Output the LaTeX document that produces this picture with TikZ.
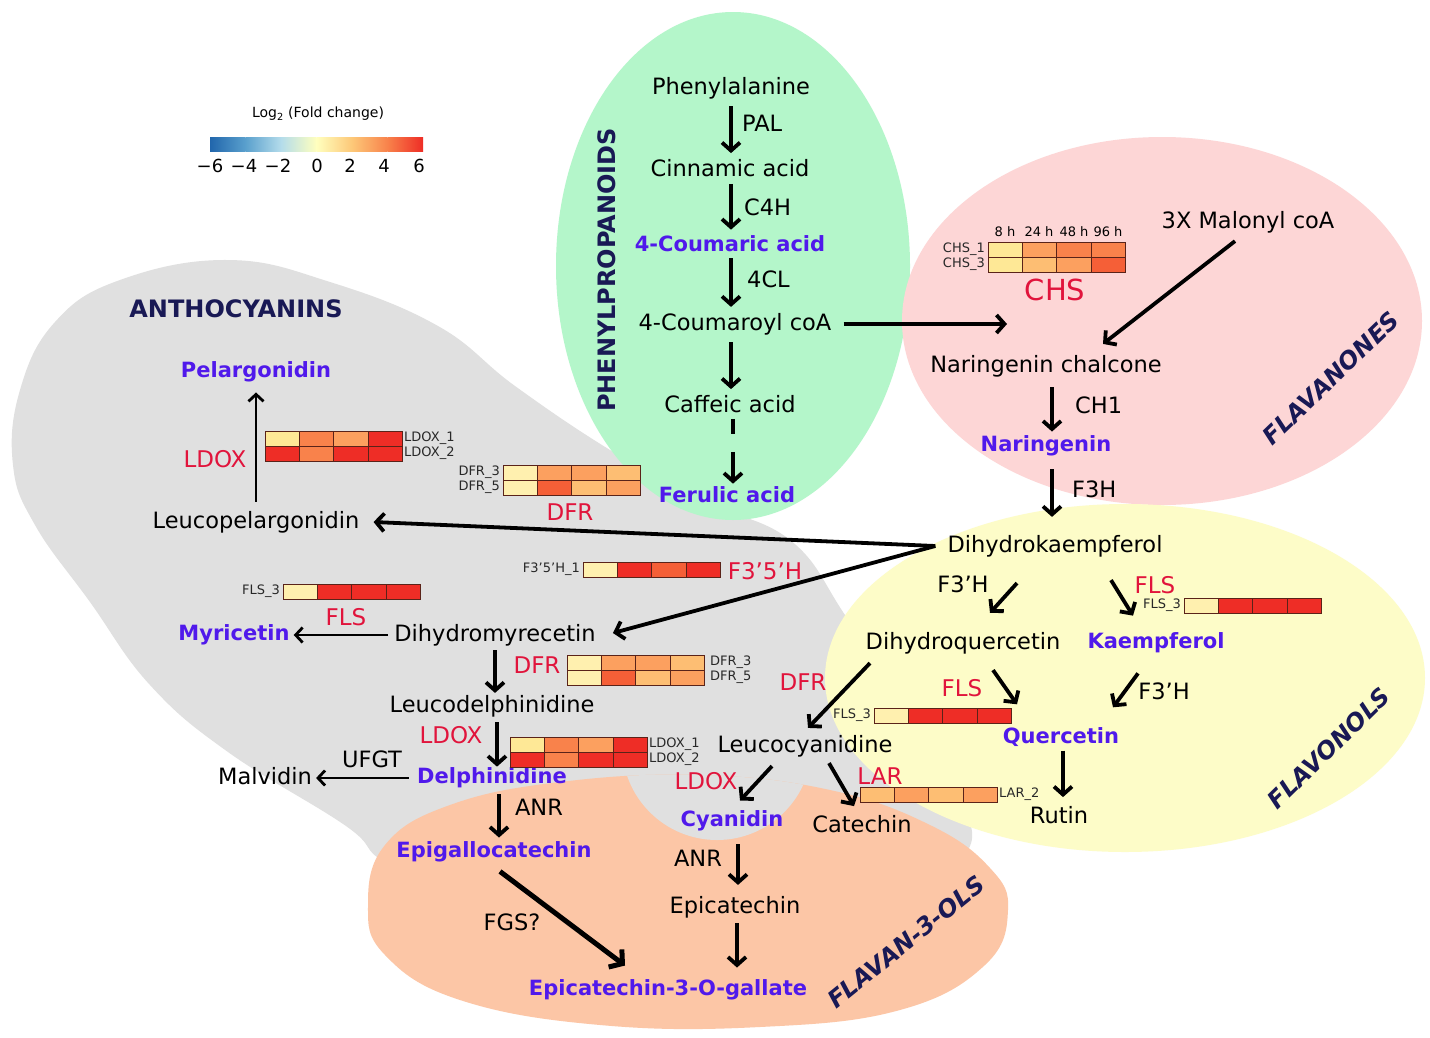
\documentclass[tikz,border=0pt]{standalone}
\usepackage{fontspec}
\setmainfont{DejaVu Sans}
\usetikzlibrary{arrows.meta,calc}
\definecolor{bggreen}{RGB}{180,246,202}
\definecolor{bgpink}{RGB}{253,214,214}
\definecolor{bgyellow}{RGB}{253,252,200}
\definecolor{bggray}{RGB}{224,224,224}
\definecolor{bgorange}{RGB}{252,198,166}
\definecolor{cmpblue}{RGB}{80,25,235}
\definecolor{enzred}{RGB}{225,20,60}
\definecolor{navy}{RGB}{25,25,85}
\definecolor{rowgray}{RGB}{40,40,40}
\definecolor{cellline}{RGB}{90,35,25}
\definecolor{hA}{RGB}{254,232,150}
\definecolor{hB}{RGB}{255,240,175}
\definecolor{hC}{RGB}{253,190,115}
\definecolor{hD}{RGB}{252,160,95}
\definecolor{hE}{RGB}{249,130,75}
\definecolor{hF}{RGB}{245,95,55}
\definecolor{hG}{RGB}{238,45,38}
\definecolor{lgA}{RGB}{33,102,172}
\definecolor{lgB}{RGB}{90,160,205}
\definecolor{lgC}{RGB}{180,220,235}
\definecolor{lgD}{RGB}{255,255,190}
\definecolor{lgE}{RGB}{253,200,120}
\definecolor{lgF}{RGB}{248,130,75}
\definecolor{lgG}{RGB}{238,45,38}
\newcommand{\heatcells}[3]{%
  \foreach \hc [count=\hi from 0] in {#3}{%
    \draw[cell, fill=\hc] ({#1+\hi*34.3},#2) rectangle ({#1+(\hi+1)*34.3},{#2+15});
  }}
\begin{document}
\begin{tikzpicture}[x=1pt,y=-1pt,
  cmp/.style={font=\fontsize{22.5}{26}\selectfont, inner sep=2pt, text=black},
  bcmp/.style={font=\bfseries\fontsize{21}{25}\selectfont, inner sep=2pt, text=cmpblue},
  enz/.style={font=\fontsize{23}{27}\selectfont, inner sep=2pt, text=enzred},
  lab/.style={font=\fontsize{22.5}{26}\selectfont, inner sep=2pt, text=black},
  rowlab/.style={font=\fontsize{13}{15}\selectfont, inner sep=1pt, text=rowgray},
  grp/.style={font=\bfseries\fontsize{24}{28}\selectfont, text=navy},
  grpi/.style={font=\bfseries\itshape\fontsize{24}{28}\selectfont, text=navy},
  arr/.style={line width=3.8pt, -{Straight Barb[length=8pt,width=18pt]}},
  thinarr/.style={line width=2.8pt, -{Straight Barb[length=7pt,width=15pt]}},
  cell/.style={draw=cellline, line width=0.8pt}]
\useasboundingbox (0,0) rectangle (1430,1037);
\fill[white] (0,0) rectangle (1430,1037);
% ---------- backgrounds ----------
\fill[bggray] plot[smooth cycle, tension=0.7] coordinates {
 (228,260) (330,282) (438,326) (515,386) (610,450) (700,500) (790,540) (845,615)
 (905,710) (955,790) (968,850) (900,885) (700,900) (470,895) (385,862) (346,826)
 (228,752) (150,685) (90,602) (35,525) (13,465) (20,390) (55,322) (120,280)};
\fill[bggreen] (733,266) ellipse [x radius=177, y radius=254];
\fill[bgpink] (1162,321) ellipse [x radius=260, y radius=184];
\fill[bgyellow] (1125,678) ellipse [x radius=300, y radius=174];
\fill[bgorange] plot[smooth cycle, tension=0.7] coordinates {
 (368,905) (385,845) (450,805) (560,782) (700,775) (830,790) (930,825) (990,868)
 (1008,910) (985,965) (900,1010) (760,1027) (600,1025) (460,1000) (385,955)};
\begin{scope}
 \clip plot[smooth cycle, tension=0.7] coordinates {
 (368,905) (385,845) (450,805) (560,782) (700,775) (830,790) (930,825) (990,868)
 (1008,910) (985,965) (900,1010) (760,1027) (600,1025) (460,1000) (385,955)};
 \fill[bggray] (717,745) circle [radius=95];
\end{scope}
% ---------- legend ----------
\node[font=\fontsize{14}{16}\selectfont, inner sep=1pt] (lgtitle) at (318,114) {Log\textsubscript{2} (Fold change)};
\shade[left color=lgA, right color=lgB] (210,137) rectangle (245.6,151);
\shade[left color=lgB, right color=lgC] (245.5,137) rectangle (281.1,151);
\shade[left color=lgC, right color=lgD] (281,137) rectangle (316.6,151);
\shade[left color=lgD, right color=lgE] (316.5,137) rectangle (352.1,151);
\shade[left color=lgE, right color=lgF] (352,137) rectangle (387.6,151);
\shade[left color=lgF, right color=lgG] (387.5,137) rectangle (423,151);
\foreach \v/\x [count=\k] in {−6/210,−4/244,−2/278,0/317,2/350,4/384,6/419}
  \node[font=\fontsize{18}{20}\selectfont, inner sep=1pt] (tick\k) at (\x,166) {\v};
% ---------- group titles ----------
\node[grp, rotate=90] (tphen) at (607,270) {PHENYLPROPANOIDS};
\node[grp] (tanth) at (236,309) {ANTHOCYANINS};
\node[grpi, rotate=44] (tflavan) at (1331,378) {FLAVANONES};
\node[grpi, rotate=44.5] (tflavon) at (1329,748) {FLAVONOLS};
\node[grpi, rotate=39] (tflav3) at (906,942) {FLAVAN-3-OLS};
% ---------- compounds ----------
\node[cmp] (phe) at (731,88) {Phenylalanine};
\node[cmp] (cin) at (730,168) {Cinnamic acid};
\node[bcmp] (cou) at (730,244) {4-Coumaric acid};
\node[cmp] (coa) at (735,324) {4-Coumaroyl coA};
\node[cmp] (caf) at (730,404) {Caffeic acid};
\node[bcmp] (fer) at (727,495) {Ferulic acid};
\node[cmp] (mal) at (1248,222) {3X Malonyl coA};
\node[cmp] (nch) at (1046,366) {Naringenin chalcone};
\node[bcmp] (nar) at (1046,446) {Naringenin};
\node[cmp] (dhk) at (1055,546) {Dihydrokaempferol};
\node[cmp] (dhq) at (963,643) {Dihydroquercetin};
\node[bcmp] (kae) at (1156,643) {Kaempferol};
\node[bcmp] (que) at (1061,737) {Quercetin};
\node[cmp] (rut) at (1059,815) {Rutin};
\node[cmp] (lcy) at (805,746) {Leucocyanidine};
\node[bcmp] (cya) at (732,821) {Cyanidin};
\node[cmp] (cat) at (862,824) {Catechin};
\node[cmp] (epi) at (735,907) {Epicatechin};
\node[bcmp] (ecg) at (668,990) {Epicatechin-3-O-gallate};
\node[bcmp] (egc) at (494,852) {Epigallocatechin};
\node[bcmp] (del) at (492,778) {Delphinidine};
\node[cmp] (malv) at (265,776) {Malvidin};
\node[cmp] (ldp) at (492,706) {Leucodelphinidine};
\node[cmp] (dhm) at (495,635) {Dihydromyrecetin};
\node[bcmp] (myr) at (234,635) {Myricetin};
\node[cmp] (lpg) at (256,522) {Leucopelargonidin};
\node[bcmp] (pel) at (256,372) {Pelargonidin};
% ---------- enzymes (black) ----------
\node[lab, anchor=west] (pal) at (740,123) {PAL};
\node[lab, anchor=west] (c4h) at (742,207) {C4H};
\node[lab, anchor=west] (fcl) at (745,279) {4CL};
\node[lab, anchor=west] (ch1) at (1073,405) {CH1};
\node[lab, anchor=west] (f3h) at (1070,489) {F3H};
\node[lab] (f3ph1) at (963,584) {F3’H};
\node[lab] (f3ph2) at (1164,691) {F3’H};
\node[lab] (ufgt) at (372,759) {UFGT};
\node[lab] (anr1) at (539,807) {ANR};
\node[lab] (anr2) at (698,858) {ANR};
\node[lab] (fgs) at (512,922) {FGS?};
% ---------- enzymes (red) ----------
\node[enz, font=\fontsize{29}{32}\selectfont] (chs) at (1055,290) {CHS};
\node[enz] (ldoxa) at (215,459) {LDOX};
\node[enz] (dfra) at (570,512) {DFR};
\node[enz] (f35h) at (765,571) {F3’5’H};
\node[enz] (flsa) at (346,617) {FLS};
\node[enz] (dfrb) at (537,665) {DFR};
\node[enz] (ldoxb) at (451,735) {LDOX};
\node[enz] (flsb) at (1155,585) {FLS};
\node[enz] (dfrc) at (803,682) {DFR};
\node[enz] (flsc) at (962,688) {FLS};
\node[enz] (ldoxc) at (706,781) {LDOX};
\node[enz] (lar) at (880,776) {LAR};
% ---------- heatmaps ----------
% CHS
\heatcells{988}{242}{hA,hD,hE,hE}
\heatcells{988}{257}{hA,hC,hD,hF}
\foreach \t/\x [count=\k] in {8 h/1005,24 h/1039,48 h/1074,96 h/1108}
  \node[rowlab, text=black] (chsh\k) at (\x,232) {\t};
\node[rowlab, anchor=east] (chs1) at (986,249.5) {CHS\_1};
\node[rowlab, anchor=east] (chs3) at (986,264.5) {CHS\_3};
% LDOX upper
\heatcells{265}{431}{hA,hE,hD,hG}
\heatcells{265}{446}{hG,hE,hG,hG}
\node[rowlab, anchor=west] (ldoxa1) at (403,438.5) {LDOX\_1};
\node[rowlab, anchor=west] (ldoxa2) at (403,453.5) {LDOX\_2};
% DFR upper
\heatcells{503}{465}{hB,hD,hD,hC}
\heatcells{503}{480}{hB,hF,hC,hD}
\node[rowlab, anchor=east] (dfra3) at (501,472.5) {DFR\_3};
\node[rowlab, anchor=east] (dfra5) at (501,487.5) {DFR\_5};
% F3'5'H
\heatcells{583}{562}{hB,hG,hF,hG}
\node[rowlab, anchor=east] (f35h1) at (581,569.5) {F3’5’H\_1};
% FLS left
\heatcells{283}{584}{hB,hG,hG,hG}
\node[rowlab, anchor=east] (flsa3) at (281,591.5) {FLS\_3};
% DFR lower
\heatcells{567}{655}{hB,hD,hD,hC}
\heatcells{567}{670}{hB,hF,hC,hD}
\node[rowlab, anchor=west] (dfrb3) at (709,662.5) {DFR\_3};
\node[rowlab, anchor=west] (dfrb5) at (709,677.5) {DFR\_5};
% LDOX lower
\heatcells{510}{737}{hA,hE,hD,hG}
\heatcells{510}{752}{hG,hE,hG,hG}
\node[rowlab, anchor=west] (ldoxb1) at (648,744.5) {LDOX\_1};
\node[rowlab, anchor=west] (ldoxb2) at (648,759.5) {LDOX\_2};
% FLS right
\heatcells{1184}{598}{hB,hG,hG,hG}
\node[rowlab, anchor=east] (flsb3) at (1182,605.5) {FLS\_3};
% FLS lower
\heatcells{874}{708}{hB,hG,hG,hG}
\node[rowlab, anchor=east] (flsc3) at (872,715.5) {FLS\_3};
% LAR
\heatcells{860}{787}{hC,hD,hC,hD}
\node[rowlab, anchor=west] (lar2) at (998,794.5) {LAR\_2};
% ---------- arrows ----------
\draw[arr] ($(phe.south)+(0,5)$) -- ($(phe.south |- cin.north)+(0,-4)$);
\draw[arr] ($(cin.south)+(1,5)$) -- ($(cin.south |- cou.north)+(1,-4)$);
\draw[arr] ($(cou.south)+(1,4)$) -- ($(cou.south |- coa.north)+(1,-4)$);
\draw[arr] ($(caf.north |- coa.south)+(1,5)$) -- ($(caf.north)+(1,-4)$);
\draw[arr, dash pattern=on 15pt off 18pt on 60pt] ($(caf.south)+(3,4)$) -- ($(caf.south |- fer.north)+(3,-1)$);
\coordinate (chsin) at (1007,324);
\draw[arr] ($(coa.east)+(10,0)$) -- (chsin);
\draw[arr] ($(mal.south)+(-13,6)$) -- ($(nch.north)+(57,-9)$);
\draw[arr] ($(nch.south)+(6,8)$) -- ($(nch.south |- nar.north)+(6,-2)$);
\draw[arr] ($(nar.south)+(6,11)$) -- ($(nar.south |- dhk.north)+(6,-16)$);
\draw[arr] ($(dhk.west)+(-10,0)$) -- ($(lpg.east)+(12,0)$);
\draw[arr] ($(dhk.west)+(-10,0)$) -- ($(dhm.east)+(15,-2)$);
\draw[thinarr] ($(lpg.north)+(0,-7)$) -- ($(pel.south)+(0,8)$);
\draw[thinarr] ($(dhm.west)+(-4,0)$) -- ($(myr.east |- dhm.west)+(2,0)$);
\draw[arr] ($(dhm.south)+(0,2)$) -- ($(dhm.south |- ldp.north)+(0,0)$);
\draw[arr] ($(ldp.south)+(5,3)$) -- ($(ldp.south |- del.north)+(5,1)$);
\draw[thinarr] ($(del.west)+(-6,0)$) -- ($(malv.east |- del.west)+(2,0)$);
\draw[arr] ($(del.south)+(7,4)$) -- ($(del.south |- egc.north)+(7,-2)$);
\draw[line width=5pt, -{Straight Barb[length=9pt,width=22pt]}] ($(egc.south)+(6,7)$) -- ($(ecg.north)+(-43,-12)$);
\draw[arr] ($(dhk.south)+(-38,24)$) -- ($(dhq.north)+(27,-17)$);
\draw[arr] ($(dhk.south)+(56,21)$) -- ($(kae.north)+(-23,-15)$);
\draw[arr] ($(dhq.south)+(-93,7)$) -- ($(lcy.north)+(3,-5)$);
\draw[arr] ($(dhq.south)+(30,14)$) -- ($(que.north)+(-44,-21)$);
\draw[arr] ($(kae.south)+(-18,18)$) -- ($(que.north)+(52,-18)$);
\draw[arr] ($(que.south)+(2,2)$) -- ($(que.south |- rut.north)+(2,-7)$);
\draw[arr] ($(lcy.south)+(-33,7)$) -- ($(cya.north)+(8,-8)$);
\draw[arr] ($(lcy.south)+(24,4)$) -- ($(cat.north)+(-8,-7)$);
\draw[arr] ($(cya.south)+(6,11)$) -- ($(cya.south |- epi.north)+(6,-9)$);
\draw[arr] ($(epi.south)+(2,3)$) -- ($(epi.south |- ecg.north)+(2,-10)$);
\end{tikzpicture}
\end{document}
